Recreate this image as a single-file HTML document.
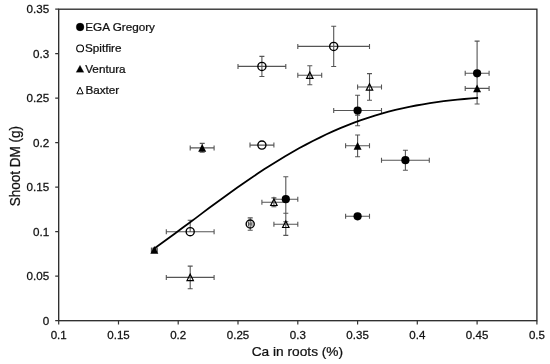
<!DOCTYPE html>
<html lang="en"><head><meta charset="utf-8"><title>Shoot DM vs Ca in roots</title>
<style>html,body{margin:0;padding:0;background:#fff}body{width:550px;height:364px;overflow:hidden}</style></head>
<body>
<svg width="550" height="364" viewBox="0 0 550 364" style="display:block;font-family:'Liberation Sans',sans-serif">
<rect width="550" height="364" fill="#fff"/>
<rect x="58.7" y="9.2" width="478.2" height="311.5" fill="none" stroke="#262626" stroke-width="1.3"/>
<path d="M55.2 320.7H58.7M55.2 276.2H58.7M55.2 231.7H58.7M55.2 187.2H58.7M55.2 142.7H58.7M55.2 98.2H58.7M55.2 53.7H58.7M55.2 9.2H58.7M58.7 320.7V324.4M118.5 320.7V324.4M178.2 320.7V324.4M238.0 320.7V324.4M297.8 320.7V324.4M357.6 320.7V324.4M417.3 320.7V324.4M477.1 320.7V324.4M536.9 320.7V324.4" stroke="#333" stroke-width="1.2" fill="none"/>
<g font-size="11" fill="#111" stroke="#111" stroke-width="0.25">
<text transform="translate(49.2 324.7) scale(1.06 1)" text-anchor="end">0</text>
<text transform="translate(49.2 280.2) scale(1.06 1)" text-anchor="end">0.05</text>
<text transform="translate(49.2 235.7) scale(1.06 1)" text-anchor="end">0.1</text>
<text transform="translate(49.2 191.2) scale(1.06 1)" text-anchor="end">0.15</text>
<text transform="translate(49.2 146.7) scale(1.06 1)" text-anchor="end">0.2</text>
<text transform="translate(49.2 102.2) scale(1.06 1)" text-anchor="end">0.25</text>
<text transform="translate(49.2 57.7) scale(1.06 1)" text-anchor="end">0.3</text>
<text transform="translate(49.2 13.2) scale(1.06 1)" text-anchor="end">0.35</text>
<text transform="translate(58.7 338.7) scale(1.05 1)" text-anchor="middle">0.1</text>
<text transform="translate(118.5 338.7) scale(1.05 1)" text-anchor="middle">0.15</text>
<text transform="translate(178.2 338.7) scale(1.05 1)" text-anchor="middle">0.2</text>
<text transform="translate(238.0 338.7) scale(1.05 1)" text-anchor="middle">0.25</text>
<text transform="translate(297.8 338.7) scale(1.05 1)" text-anchor="middle">0.3</text>
<text transform="translate(357.6 338.7) scale(1.05 1)" text-anchor="middle">0.35</text>
<text transform="translate(417.3 338.7) scale(1.05 1)" text-anchor="middle">0.4</text>
<text transform="translate(477.1 338.7) scale(1.05 1)" text-anchor="middle">0.45</text>
<text transform="translate(536.9 338.7) scale(1.05 1)" text-anchor="middle">0.5</text>
</g>
<text transform="translate(297.4 356.3) scale(1.025 1)" text-anchor="middle" font-size="13.4" fill="#111" stroke="#111" stroke-width="0.25">Ca in roots (%)</text>
<text transform="translate(20.3 166.2) scale(1.06 1) rotate(-90)" text-anchor="middle" font-size="13.5" fill="#111" stroke="#111" stroke-width="0.25">Shoot DM (g)</text>
<path d="M273.9 199.2H297.8M273.9 196.7v5.0M297.8 196.7v5.0M285.8 176.7V221.7M283.3 176.7h5.0M283.3 221.7h5.0M333.7 110.5H381.5M333.7 108.0v5.0M381.5 108.0v5.0M357.6 95.2V125.8M355.1 95.2h5.0M355.1 125.8h5.0M345.6 216.3H369.5M345.6 213.8v5.0M369.5 213.8v5.0M381.5 160.2H429.3M381.5 157.7v5.0M429.3 157.7v5.0M405.4 150.2V170.3M402.9 150.2h5.0M402.9 170.3h5.0M465.2 73.3H489.1M465.2 70.8v5.0M489.1 70.8v5.0M477.1 41.1V104.0M474.6 41.1h5.0M474.6 104.0h5.0M166.3 231.7H214.1M166.3 229.2v5.0M214.1 229.2v5.0M190.2 220.3V231.7M187.7 220.3h5.0M187.7 231.7h5.0M248.5 224.0H251.9M248.5 221.5v5.0M251.9 221.5v5.0M250.2 217.9V230.2M247.7 217.9h5.0M247.7 230.2h5.0M250.0 145.1H273.9M250.0 142.6v5.0M273.9 142.6v5.0M238.0 66.4H285.8M238.0 63.9v5.0M285.8 63.9v5.0M261.9 56.4V76.5M259.4 56.4h5.0M259.4 76.5h5.0M297.8 46.4H369.5M297.8 43.9v5.0M369.5 43.9v5.0M333.7 26.3V66.5M331.2 26.3h5.0M331.2 66.5h5.0M151.4 249.9H157.3M151.4 247.4v5.0M157.3 247.4v5.0M154.3 248.2V251.7M151.8 248.2h5.0M151.8 251.7h5.0M190.2 147.9H214.1M190.2 145.4v5.0M214.1 145.4v5.0M202.2 143.4V152.3M199.7 143.4h5.0M199.7 152.3h5.0M345.6 145.8H369.5M345.6 143.3v5.0M369.5 143.3v5.0M357.6 135.0V156.7M355.1 135.0h5.0M355.1 156.7h5.0M465.2 88.4H489.1M465.2 85.9v5.0M489.1 85.9v5.0M166.3 277.4H214.1M166.3 274.9v5.0M214.1 274.9v5.0M190.2 266.1V288.7M187.7 266.1h5.0M187.7 288.7h5.0M261.9 202.3H285.8M261.9 199.8v5.0M285.8 199.8v5.0M273.9 197.9V206.8M271.4 197.9h5.0M271.4 206.8h5.0M273.9 224.3H297.8M273.9 221.8v5.0M297.8 221.8v5.0M285.8 213.2V235.4M283.3 213.2h5.0M283.3 235.4h5.0M297.8 75.2H321.7M297.8 72.7v5.0M321.7 72.7v5.0M309.8 65.8V84.7M307.3 65.8h5.0M307.3 84.7h5.0M357.6 87.0H381.5M357.6 84.5v5.0M381.5 84.5v5.0M369.5 73.6V100.3M367.0 73.6h5.0M367.0 100.3h5.0M355.1 115.1h5" stroke="#555" stroke-width="1.1" fill="none"/>
<path d="M154.3 248.5 L161.2 243.6 L168.1 238.5 L175.0 233.5 L181.9 228.3 L188.8 223.2 L195.7 218.1 L202.6 212.9 L209.4 207.8 L216.3 202.7 L223.2 197.7 L230.1 192.7 L237.0 187.8 L243.9 183.0 L250.8 178.3 L257.7 173.6 L264.5 169.1 L271.4 164.7 L278.3 160.4 L285.2 156.3 L292.1 152.2 L299.0 148.3 L305.9 144.6 L312.8 141.0 L319.7 137.6 L326.5 134.3 L333.4 131.1 L340.3 128.1 L347.2 125.3 L354.1 122.7 L361.0 120.2 L367.9 117.8 L374.8 115.6 L381.6 113.6 L388.5 111.7 L395.4 109.9 L402.3 108.3 L409.2 106.8 L416.1 105.5 L423.0 104.3 L429.9 103.1 L436.8 102.1 L443.6 101.2 L450.5 100.4 L457.4 99.7 L464.3 99.0 L471.2 98.4 L478.1 97.8" stroke="#000" stroke-width="1.8" fill="none" stroke-linecap="butt" stroke-linejoin="round"/>
<circle cx="285.8" cy="199.2" r="4.1" fill="#000"/>
<circle cx="357.6" cy="110.5" r="4.1" fill="#000"/>
<circle cx="357.6" cy="216.3" r="4.1" fill="#000"/>
<circle cx="405.4" cy="160.2" r="4.1" fill="#000"/>
<circle cx="477.1" cy="73.3" r="4.1" fill="#000"/>
<circle cx="190.2" cy="231.7" r="4.05" fill="none" stroke="#000" stroke-width="1.4"/>
<circle cx="250.2" cy="224.0" r="4.05" fill="none" stroke="#000" stroke-width="1.4"/>
<circle cx="261.9" cy="145.1" r="4.05" fill="none" stroke="#000" stroke-width="1.4"/>
<circle cx="261.9" cy="66.4" r="4.05" fill="none" stroke="#000" stroke-width="1.4"/>
<circle cx="333.7" cy="46.4" r="4.05" fill="none" stroke="#000" stroke-width="1.4"/>
<path d="M154.3 246.0l4 7.8h-8z" fill="#000"/>
<path d="M202.2 144.0l4 7.8h-8z" fill="#000"/>
<path d="M357.6 141.9l4 7.8h-8z" fill="#000"/>
<path d="M477.1 84.5l4 7.8h-8z" fill="#000"/>
<path d="M190.2 274.2l3.2 6.4h-6.4z" fill="none" stroke="#000" stroke-width="1.2"/>
<path d="M273.9 199.1l3.2 6.4h-6.4z" fill="none" stroke="#000" stroke-width="1.2"/>
<path d="M285.8 221.1l3.2 6.4h-6.4z" fill="none" stroke="#000" stroke-width="1.2"/>
<path d="M309.8 72.0l3.2 6.4h-6.4z" fill="none" stroke="#000" stroke-width="1.2"/>
<path d="M369.5 83.8l3.2 6.4h-6.4z" fill="none" stroke="#000" stroke-width="1.2"/>
<g font-size="11" fill="#111" stroke="#111" stroke-width="0.25">
<circle cx="80.1" cy="27.0" r="3.9" fill="#000"/>
<text transform="translate(85.3 30.9) scale(1.065 1)">EGA Gregory</text>
<circle cx="80.1" cy="48.4" r="3.4" fill="none" stroke="#000" stroke-width="1.1"/>
<text transform="translate(85.0 51.5) scale(1.065 1)">Spitfire</text>
<path d="M80.0 65.3l3.9 7h-7.8z" fill="#000"/>
<text transform="translate(85.2 73.1) scale(1.065 1)">Ventura</text>
<path d="M80.0 87.2l3.15 6.6h-6.3z" fill="none" stroke="#000" stroke-width="1"/>
<text transform="translate(85.4 94.3) scale(1.065 1)">Baxter</text>
</g>
</svg>
</body></html>
